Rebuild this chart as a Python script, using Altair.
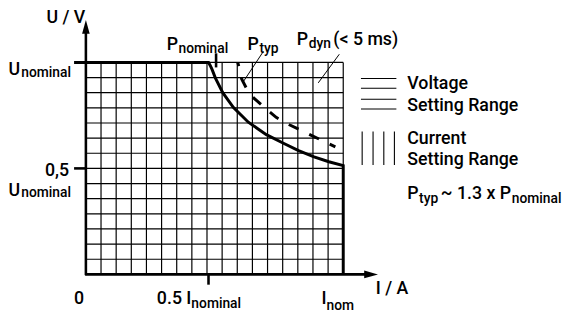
import altair as alt
import pandas as pd

FONT = 'Roboto, "Liberation Sans", Arial, sans-serif'
WEIGHT = 500

# ---- data (grid units: 1 unit = one grid cell) ----
GRID_COLS = [0, 1, 2, 3, 4, 5, 6, 7, 8, 9, 10, 11, 12, 13, 14, 15, 16, 17]
GRID_ROWS = [0, 1, 2, 3, 4, 5, 6, 7, 8, 9, 10, 11, 12, 13, 14]
I_NOM = 17
U_NOM = 14
U_HALF = 7
I_HALF = 8.1

# P_nominal boundary (solid)
P_NOM_I = [8.1, 8.22, 8.34, 8.55, 9.04, 9.75, 10.73, 11.92, 13.05, 14.05, 15.07, 16.05, 17.0]
P_NOM_U = [14.0, 13.78, 13.52, 12.98, 12.0, 11.02, 10.05, 9.23, 8.66, 8.18, 7.76, 7.44, 7.18]

# P_typ curve (dashed)
P_TYP_I = [10.03, 10.12, 10.29, 10.62, 11.06, 11.55, 12.57, 13.44, 14.09, 14.79, 15.44, 16.48]
P_TYP_U = [14.0, 13.67, 12.91, 12.26, 11.67, 11.24, 10.37, 9.88, 9.57, 9.23, 8.92, 8.42]

# ---- scales ----
XD = [-5.1449, 31.781]
YD = [-2.5396, 17.451]
W, H = 567, 307
xs = alt.Scale(domain=XD, nice=False, zero=False)
ys = alt.Scale(domain=YD, nice=False, zero=False)


def X(f="x"):
    return alt.X(f, type="quantitative", scale=xs, axis=None)


def Y(f="y"):
    return alt.Y(f, type="quantitative", scale=ys, axis=None)


def seg_df(rows):
    return pd.DataFrame(rows, columns=["x", "y", "x2", "y2"])


def rules(rows, width, color="black"):
    return alt.Chart(seg_df(rows)).mark_rule(strokeWidth=width, color=color, strokeCap="butt").encode(
        x=X("x"), y=Y("y"), x2="x2:Q", y2="y2:Q"
    )


# grid
grid_v = rules([[c, 0, c, U_NOM] for c in GRID_COLS], 1.2)
grid_h = rules([[0, r, I_NOM, r] for r in GRID_ROWS], 1.2)

# outline: U_nominal line, P_nominal curve, I_nominal line
ox = [-0.78] + P_NOM_I + [I_NOM]
oy = [U_NOM] + P_NOM_U + [0]
outline = alt.Chart(pd.DataFrame({"x": ox, "y": oy, "o": list(range(len(ox)))})).mark_line(
    color="black", strokeWidth=3, strokeCap="butt", strokeJoin="miter"
).encode(x=X(), y=Y(), order="o:Q")

dashed = alt.Chart(pd.DataFrame({"x": P_TYP_I, "y": P_TYP_U, "o": list(range(len(P_TYP_I)))})).mark_line(
    color="black", strokeWidth=3, strokeDash=[11, 12], strokeDashOffset=7, strokeCap="butt"
).encode(x=X(), y=Y(), order="o:Q")

# axes and ticks
axes = rules([
    [0, -0.05, 0, 15.95],
    [-0.05, 0, 18.45, 0],
    [-0.78, U_HALF, 0, U_HALF],
    [I_HALF, 0, I_HALF, -0.68],
    [8.6, 13.67, 8.6, 14.6],
], 2.6)

leaders = rules([
    [11.72, 14.72, 10.42, 12.76],
    [16.74, 14.54, 15.35, 12.65],
], 1)

legend_lines = rules(
    [[18.17, yy, 20.51, yy] for yy in [12.94, 12.29, 11.57, 10.92]]
    + [[xx, 9.44, xx, 7.23] for xx in [18.25, 18.97, 19.68, 20.38]],
    1.1,
)

arrow_y = alt.Chart(pd.DataFrame({"x": [0], "y": [16.345]})).mark_point(
    shape="M0,-1L0.55,1L-0.55,1Z", filled=True, color="black", opacity=1, size=196
).encode(x=X(), y=Y())
arrow_x = alt.Chart(pd.DataFrame({"x": [18.84], "y": [0]})).mark_point(
    shape="M1,0L-1,0.55L-1,-0.55Z", filled=True, color="black", opacity=1, size=196
).encode(x=X(), y=Y())

# ---- text ----
MAIN = [
    ["U / V", -2.605, 16.604],
    ["U", -5.112, 13.153],
    ["U", -5.112, 5.209],
    ["0", -0.781, -1.953],
    ["0.5 I", 4.689, -1.953],
    ["I", 15.565, -1.953],
    ["I / A", 19.147, -1.302],
    ["P", 5.340, 14.847],
    ["P", 10.681, 14.847],
    ["P", 13.937, 15.172],
    ["(< 5 ms)", 16.347, 15.172],
    ["Voltage", 21.231, 12.242],
    ["Setting Range", 21.231, 10.809],
    ["Current", 21.231, 8.595],
    ["Setting Range", 21.231, 7.228],
    ["P", 21.231, 4.949],
    ["~ 1.3 x P", 23.445, 4.949],
]
SUB = [
    ["nominal", -4.266, 13.023],
    ["nominal", -4.266, 5.079],
    ["nominal", 6.968, -2.214],
    ["nom", 15.891, -2.344],
    ["nominal", 6.122, 14.651],
    ["typ", 11.462, 14.651],
    ["dyn", 14.719, 14.977],
    ["typ", 22.012, 4.688],
    ["nominal", 28.134, 4.688],
]
RIGHT = [["0,5", -1.107, 6.512]]


def texts(rows, size, align="left"):
    return alt.Chart(pd.DataFrame(rows, columns=["t", "x", "y"])).mark_text(
        align=align, baseline="alphabetic", fontSize=size, font=FONT, fontWeight=WEIGHT, color="black"
    ).encode(x=X(), y=Y(), text="t:N")


chart = alt.layer(
    grid_v, grid_h, outline, dashed, axes, leaders, legend_lines, arrow_y, arrow_x,
    texts(MAIN, 18), texts(SUB, 14), texts(RIGHT, 18, "right"),
).properties(
    width=W, height=H, padding=0, autosize=alt.AutoSizeParams(type="none"), background="white"
).configure_view(stroke=None)

chart.save("out.html", embed_options={"renderer": "svg", "actions": False})
